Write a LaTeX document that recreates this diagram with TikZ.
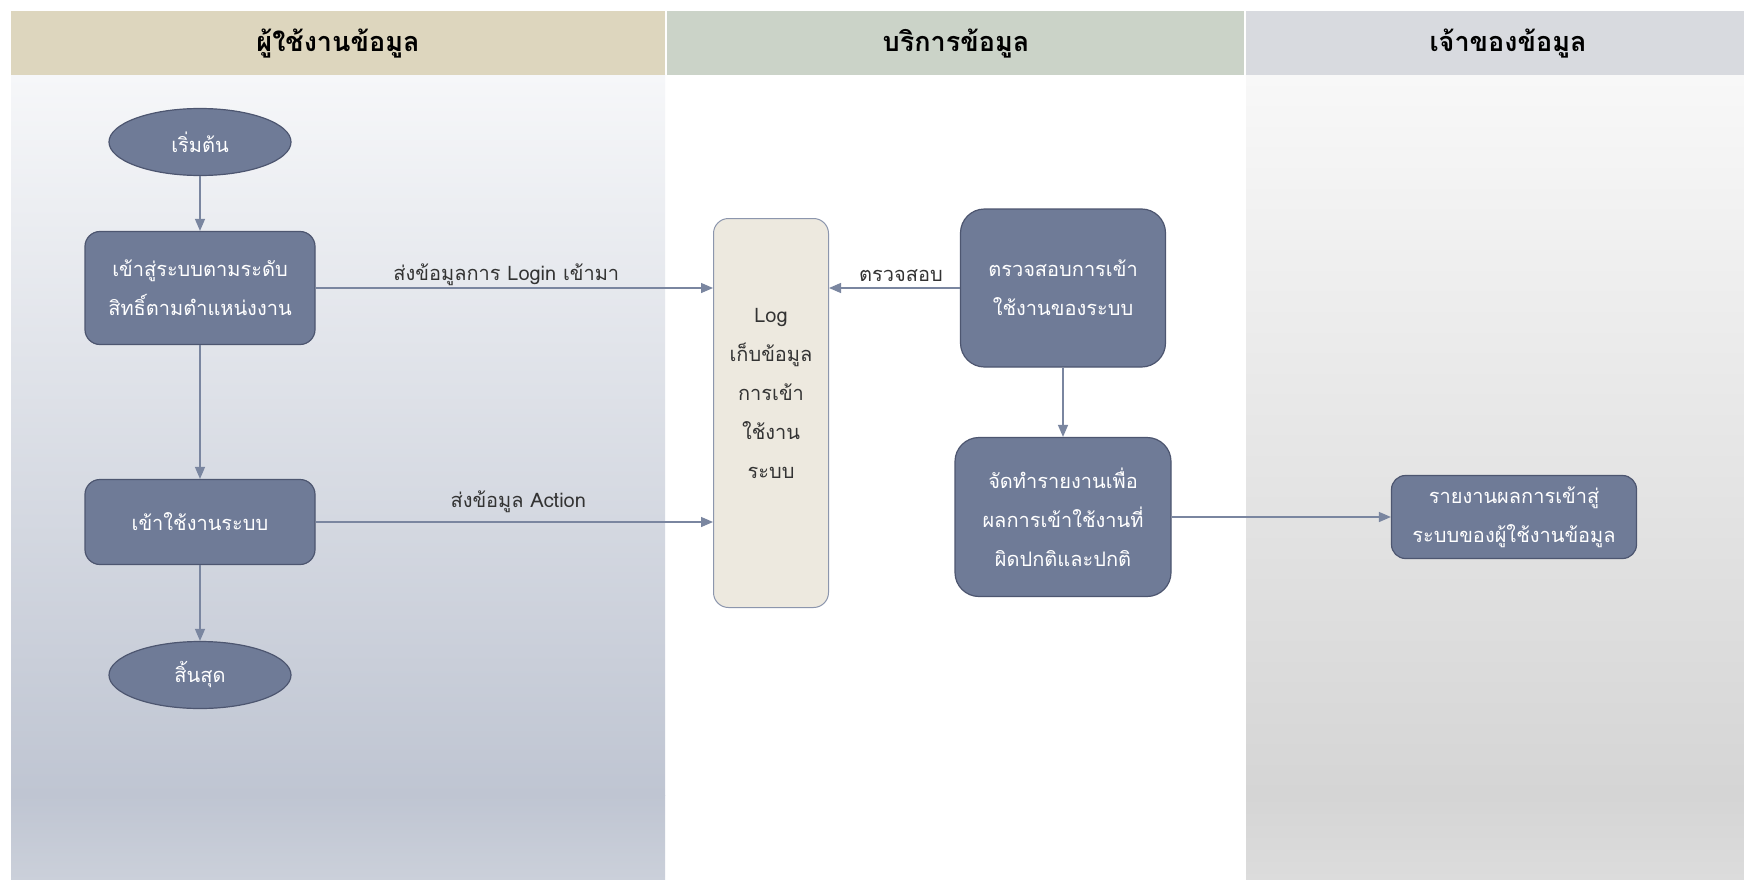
\documentclass[tikz,border=0pt]{standalone}
\usepackage{fontspec}
\newfontfamily\thaifont[Script=Thai]{Loma}
\usetikzlibrary{arrows.meta,shapes.geometric}
\definecolor{nodefill}{HTML}{6F7B97}
\definecolor{nodeborder}{HTML}{4D5670}
\definecolor{logfill}{HTML}{EDE9DF}
\definecolor{logborder}{HTML}{8C96AD}
\definecolor{arrowcol}{HTML}{7A86A0}
\definecolor{headA}{HTML}{DDD6BE}
\definecolor{headB}{HTML}{CBD3C8}
\definecolor{headC}{HTML}{D8DADF}
\definecolor{laneAtop}{HTML}{F6F7F9}
\definecolor{laneAmid}{HTML}{BFC5D2}
\definecolor{laneAbot}{HTML}{CBD0DA}
\definecolor{laneCtop}{HTML}{F8F8F8}
\definecolor{laneCmid}{HTML}{D5D5D5}
\definecolor{laneCbot}{HTML}{DCDCDC}
\definecolor{textdark}{HTML}{333333}
\tikzset{
  proc/.style={draw=nodeborder, fill=nodefill, rounded corners=15pt, line width=1.2pt,
    text=white, align=center, inner sep=0pt,
    font=\thaifont\fontsize{20}{39}\selectfont},
  term/.style={ellipse, draw=nodeborder, fill=nodefill, line width=1.2pt, text=white,
    inner sep=0pt, font=\thaifont\fontsize{20}{39}\selectfont},
  logbox/.style={draw=logborder, fill=logfill, rounded corners=15pt, line width=1pt,
    text=textdark, align=center, inner sep=0pt,
    font=\thaifont\fontsize{20}{39}\selectfont},
  conn/.style={draw=arrowcol, line width=1.3pt, -{Triangle[length=12pt,width=10pt]}},
  lbl/.style={text=textdark, font=\thaifont\fontsize{20}{24}\selectfont, inner sep=2pt},
  headtext/.style={text=black, font=\thaifont\bfseries\fontsize{27}{30}\selectfont}
}
\begin{document}
\begin{tikzpicture}[x=1pt,y=-1pt]
\useasboundingbox (0,0) rectangle (1744,880);
\fill[white] (0,0) rectangle (1744,880);
% lane bodies
\fill[top color=laneAtop, bottom color=laneAmid] (11,75) rectangle (665,795);
\fill[top color=laneAmid, bottom color=laneAbot] (11,795) rectangle (665,880);
\fill[top color=laneCtop, bottom color=laneCmid] (1246,75) rectangle (1744,795);
\fill[top color=laneCmid, bottom color=laneCbot] (1246,795) rectangle (1744,880);
% headers
\fill[headA] (11,11) rectangle (665,75);
\fill[headB] (667,11) rectangle (1244,75);
\fill[headC] (1246,11) rectangle (1744,75);
\node[headtext] (hA) at (338,44) {ผู้ใช้งานข้อมูล};
\node[headtext] (hB) at (956,44) {บริการข้อมูล};
\node[headtext] (hC) at (1508,44) {เจ้าของข้อมูล};
% nodes
\node[term, minimum width=182pt, minimum height=67pt] (start) at (200,142) {เริ่มต้น};
\node[proc, minimum width=230pt, minimum height=113pt] (login) at (200,288) {เข้าสู่ระบบตามระดับ\\สิทธิ์ตามตำแหน่งงาน};
\node[proc, minimum width=230pt, minimum height=85pt] (use) at (200,522) {เข้าใช้งานระบบ};
\node[term, minimum width=182pt, minimum height=67pt] (end) at (200,675) {สิ้นสุด};
\node[logbox, minimum width=115pt, minimum height=389pt, anchor=north] (log) at (771,218) {};
\node[text=textdark, align=center, font=\thaifont\fontsize{20}{39}\selectfont] (logtext) at (771,393) {Log\\เก็บข้อมูล\\การเข้า\\ใช้งาน\\ระบบ};
\node[proc, rounded corners=24pt, minimum width=205pt, minimum height=158pt] (check) at (1063,288) {ตรวจสอบการเข้า\\ใช้งานของระบบ};
\node[proc, rounded corners=24pt, minimum width=216pt, minimum height=159pt] (report) at (1063,517) {จัดทำรายงานเพื่อ\\ผลการเข้าใช้งานที่\\ผิดปกติและปกติ};
\node[proc, rounded corners=14pt, minimum width=245pt, minimum height=83pt] (result) at (1514,517) {รายงานผลการเข้าสู่\\ระบบของผู้ใช้งานข้อมูล};
% connectors
\draw[conn] (start) -- (login);
\draw[conn] (login) -- (use);
\draw[conn] (use) -- (end);
\draw[conn] (login.east) -- (log.west |- login.east) node[lbl, above, pos=0.48] {ส่งข้อมูลการ Login เข้ามา};
\draw[conn] (use.east) -- (log.west |- use.east) node[lbl, above=7pt, pos=0.51] {ส่งข้อมูล Action};
\draw[conn] (check.west) -- (log.east |- check.west) node[lbl, above=4pt, pos=0.45] {ตรวจสอบ};
\draw[conn] (check) -- (report);
\draw[conn] (report.east) -- (result.west |- report.east);
\end{tikzpicture}
\end{document}
